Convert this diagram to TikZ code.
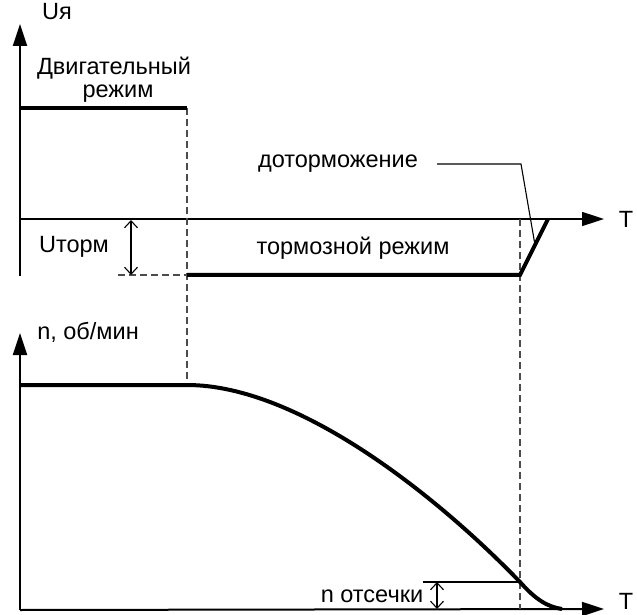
\documentclass[tikz,border=0pt]{standalone}
\usepackage{fontspec}
\setmainfont{Liberation Sans}
\usepackage{tikz}
\usetikzlibrary{
    arrows.meta
}

\begin{document}
\begin{tikzpicture}[x=1pt,y=1pt,>={Triangle[length=22pt,width=14pt]},font=\fontsize{23.5}{27}\selectfont]
    \tikzstyle{axis}=[line width=2pt,->]
    \tikzstyle{graph}=[line width=4pt,line cap=butt]
    \tikzstyle{guide}=[line width=1.2pt,dash pattern=on 7pt off 4pt,draw=black!70]
    \tikzstyle{thin}=[line width=1.1pt]
    \tikzstyle{dim}=[line width=1.1pt,{Straight Barb[length=7pt,width=13pt]}-{Straight Barb[length=7pt,width=13pt]}]
    \useasboundingbox (0,0) rectangle (637,614);
    % upper plot: armature voltage
    \coordinate (u0) at (20, 338);
    \coordinate (utop) at (20, 590);
    \coordinate (t0) at (20, 395);
    \coordinate (tend) at (604, 395);
    \coordinate (m1) at (20, 506);
    \coordinate (m2) at (187, 506);
    \coordinate (b1) at (187, 339);
    \coordinate (b2) at (520, 339);
    \coordinate (b3) at (548, 395);
    \coordinate (d1) at (118, 339);
    \coordinate (a1) at (131, 394);
    \coordinate (a2) at (131, 339);
    \coordinate (l1) at (437, 450);
    \coordinate (l2) at (521, 450);
    \coordinate (l3) at (535, 369);
    \node (uy) at (57, 602) {Uя};
    \node (motor) at (114, 546) {Двигательный};
    \node (motor2) at (118, 520) {режим};
    \node[inner sep=1pt] (tu) at (626, 395) {T};
    \node (utorm) at (74, 367) {Uторм};
    \node (braking) at (353, 366) {тормозной режим};
    \node (dotorm) at (338, 450) {доторможение};
    % lower plot: speed
    \coordinate (n0) at (20, 4);
    \coordinate (ntop) at (20, 281);
    \coordinate (nend) at (604, 5);
    \coordinate (s1) at (20, 229);
    \coordinate (s2) at (187, 229);
    \coordinate (s3) at (520, 32);
    \coordinate (s4) at (562, 5);
    \coordinate (c1) at (423, 32);
    \coordinate (c2) at (437, 32);
    \coordinate (c3) at (437, 5);
    \coordinate (g1) at (520, 5);
    \node (nlabel) at (88, 282) {n, об/мин};
    \node[anchor=base,inner sep=1pt] (tn) at (626, 5) {T};
    \node (cut) at (372, 18) {n отсечки};
    % axes
    \draw[axis] (u0) -- (utop);
    \draw[axis,line width=1.6pt] (t0) -- (tend);
    \draw[axis] (n0) -- (ntop);
    \draw[axis] (s1 |- n0) -- (nend);
    % guides
    \draw[guide] (m2) -- (s2);
    \draw[guide] (d1) -- (b1);
    \draw[guide] (b2 |- t0) -- (g1);
    % curves
    \draw[graph] (m1) -- (m2);
    \draw[graph,line join=miter] (b1) -- (b2) -- (b3);
    \draw[graph] (s1) -- (s2) .. controls (300, 229) and (440, 115) .. (s3)
        .. controls (536, 14) and (548, 7) .. (s4);
    % leaders and dimensions
    \draw[thin] (l1) -- (l2) -- (l3);
    \draw[dim] (a1) -- (a2);
    \draw[thin] (c1) -- (s3);
    \draw[dim] (c2) -- (c3);
\end{tikzpicture}
\end{document}
